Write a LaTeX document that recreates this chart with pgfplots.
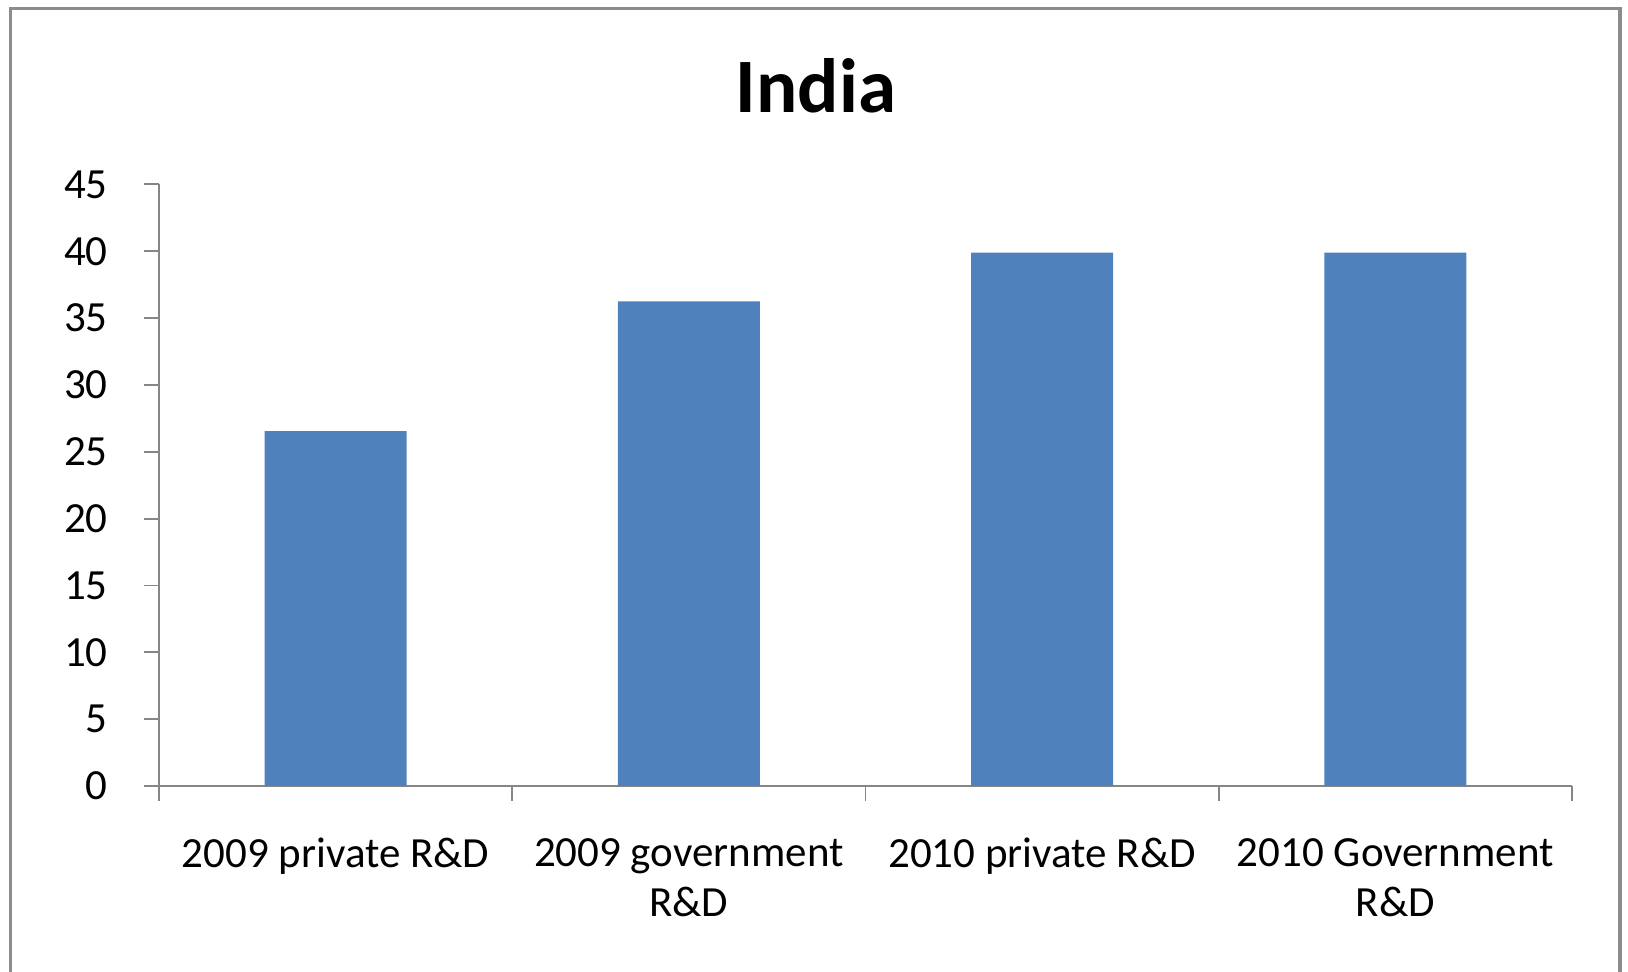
\documentclass[border=0pt]{standalone}
\usepackage{pgfplots}
\pgfplotsset{compat=1.18}
\usepackage{fontspec}
\setmainfont{Carlito}
\definecolor{barblue}{HTML}{4F81BD}
\definecolor{axgray}{HTML}{868686}
\definecolor{framegray}{HTML}{8C8C8C}
\begin{document}
\begin{tikzpicture}[x=1bp,y=1bp]
\path[use as bounding box] (0,0) rectangle (814,486);
\begin{scope}
\clip (0,0) rectangle (814,486);
\draw[framegray, line width=1.6bp] (5.2,-20) rectangle (810,481.8);
\end{scope}
\node[anchor=base, inner sep=0pt, font=\fontsize{38.5bp}{41bp}\selectfont\bfseries] at (408,429.5) {India};
\begin{axis}[
  at={(79.5bp,93bp)}, anchor=south west,
  scale only axis, width=706.5bp, height=300.8bp,
  xmin=-0.5, xmax=3.5, ymin=0, ymax=45,
  ytick={0,5,...,45},
  xtick={-0.5,0.5,1.5,2.5,3.5},
  x tick label as interval,
  xticklabels={2009 private R\&D, {2009 government\\R\&D}, 2010 private R\&D, {2010 Government\\R\&D}},
  axis lines*=left,
  axis line style={axgray, line width=0.9bp},
  tick style={axgray, line width=0.9bp},
  tick align=outside,
  major tick length=7.5bp,
  /pgf/number format/assume math mode=true,
  y tick label style={font=\fontsize{21.5bp}{25bp}\selectfont, text=black, inner sep=0pt, anchor=east, xshift=-18bp},
  x tick label style={font=\fontsize{21.5bp}{25bp}\selectfont, text=black, inner sep=0pt, align=center, anchor=north, yshift=-18.5bp},
  ybar, bar width=71bp,
  clip=false,
]
\addplot[fill=barblue, draw=none, bar shift=0pt] coordinates {(0,26.55) (1,36.25) (2,39.9) (3,39.9)};
\end{axis}
\end{tikzpicture}
\end{document}
